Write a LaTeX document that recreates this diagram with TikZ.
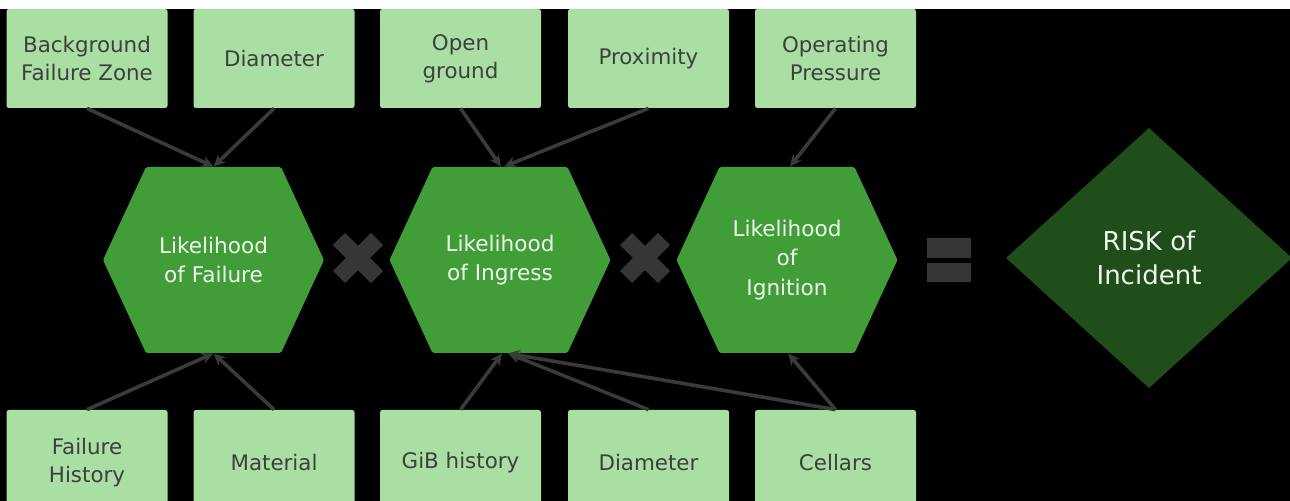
\documentclass[tikz,border=0pt]{standalone}
\usepackage{fontspec}
\setmainfont{DejaVu Sans}
\usetikzlibrary{arrows.meta,calc}

\definecolor{boxgreen}{HTML}{A9DFA3}
\definecolor{hexgreen}{HTML}{409D38}
\definecolor{riskgreen}{HTML}{1F4E1B}
\definecolor{boxtext}{HTML}{3F3F3F}
\definecolor{hextext}{HTML}{EEF6EC}
\definecolor{linkgray}{HTML}{3A3A3A}
\definecolor{opgray}{HTML}{363636}

\begin{document}
\begin{tikzpicture}[x=0.5pt,y=-0.5pt,
  factor/.style={rectangle, rounded corners=1.2pt, fill=boxgreen, text=boxtext,
    minimum width=80.5pt, minimum height=49.5pt, inner sep=0pt, align=center,
    font=\fontsize{10.7}{14.2}\selectfont},
  lowfactor/.style={factor, minimum height=52.5pt},
  hexnode/.style={rectangle, minimum width=110.5pt, minimum height=93pt,
    inner sep=0pt, align=center, text=hextext,
    font=\fontsize{10.8}{14.8}\selectfont,
    path picture={\fill[hexgreen, rounded corners=0.8pt]
      (path picture bounding box.west)
      -- ([xshift=21.5pt]path picture bounding box.north west)
      -- ([xshift=-21.5pt]path picture bounding box.north east)
      -- (path picture bounding box.east)
      -- ([xshift=-21.5pt]path picture bounding box.south east)
      -- ([xshift=21.5pt]path picture bounding box.south west) -- cycle;}},
  risknode/.style={rectangle, minimum width=143pt, minimum height=130pt,
    inner sep=0pt, align=center, text=hextext,
    font=\fontsize{13}{16.8}\selectfont,
    path picture={\fill[riskgreen]
      (path picture bounding box.west) -- (path picture bounding box.north)
      -- (path picture bounding box.east) -- (path picture bounding box.south) -- cycle;}},
  link/.style={draw=linkgray, line width=1.8pt, -{Stealth[length=6pt,width=5.5pt]}},
  optimes/.style={draw=opgray, line width=8.5pt},
  opbar/.style={fill=opgray}
]
% page: white strip on top, black field below
\useasboundingbox (0,0) rectangle (1290,501);
\clip (0,0) rectangle (1290,501);
\fill[white] (0,0) rectangle (1290,9);
\fill[black] (0,9) rectangle (1290,501);

% contributing factors, top row
\node[factor] (bfz)  at (87,58.5)    {Background\\Failure Zone};
\node[factor] (dia1) at (274,58.5)   {Diameter};
\node[factor] (open) at (460.5,58.5) {Open\\ground};
\node[factor] (prox) at (648.5,58.5) {Proximity};
\node[factor] (pres) at (835.5,58.5) {Operating\\Pressure};

% contributing factors, bottom row (running off the lower edge)
\node[lowfactor] (fhist) at (87,462.5)    {Failure\\History};
\node[lowfactor] (mat)   at (274,462.5)   {Material};
\node[lowfactor] (gib)   at (460.5,462.5) {GiB history};
\node[lowfactor] (dia2)  at (648.5,462.5) {Diameter};
\node[lowfactor] (cell)  at (835.5,462.5) {Cellars};

% likelihood terms
\node[hexnode] (fail) at (213.5,260) {Likelihood\\of Failure};
\node[hexnode] (ingr) at (500,260)   {Likelihood\\of Ingress};
\node[hexnode] (ign)  at (787,260)   {Likelihood\\of\\Ignition};

% result
\node[risknode] (risk) at (1149,258) {RISK of\\Incident};

% operators between the terms
\coordinate (t1) at (358,258);
\coordinate (t2) at (645,258);
\draw[optimes] ($(t1)+(-19,-19)$) -- ($(t1)+(19,19)$);
\draw[optimes] ($(t1)+(-19,19)$) -- ($(t1)+(19,-19)$);
\draw[optimes] ($(t2)+(-19,-19)$) -- ($(t2)+(19,19)$);
\draw[optimes] ($(t2)+(-19,19)$) -- ($(t2)+(19,-19)$);
\fill[opbar] (927,238) rectangle (971,258);
\fill[opbar] (927,263) rectangle (971,282);

% influences
\draw[link] (bfz.south)  -- (fail.north);
\draw[link] (dia1.south) -- (fail.north);
\draw[link] (fhist.north) -- (fail.south);
\draw[link] (mat.north)   -- (fail.south);

\draw[link] (open.south) -- ($(ingr.north)+(1,0)$);
\draw[link] (prox.south) -- ($(ingr.north)+(4,0)$);
\draw[link] (gib.north)  -- ($(ingr.south)+(2,0)$);
\draw[link] (dia2.north) -- ($(ingr.south)+(8,0)$);
\draw[link] (cell.north) -- ($(ingr.south)+(8,0)$);

\draw[link] (pres.south) -- ($(ign.north)+(3,0)$);
\draw[link] (cell.north) -- ($(ign.south)+(1,0)$);
\end{tikzpicture}
\end{document}
